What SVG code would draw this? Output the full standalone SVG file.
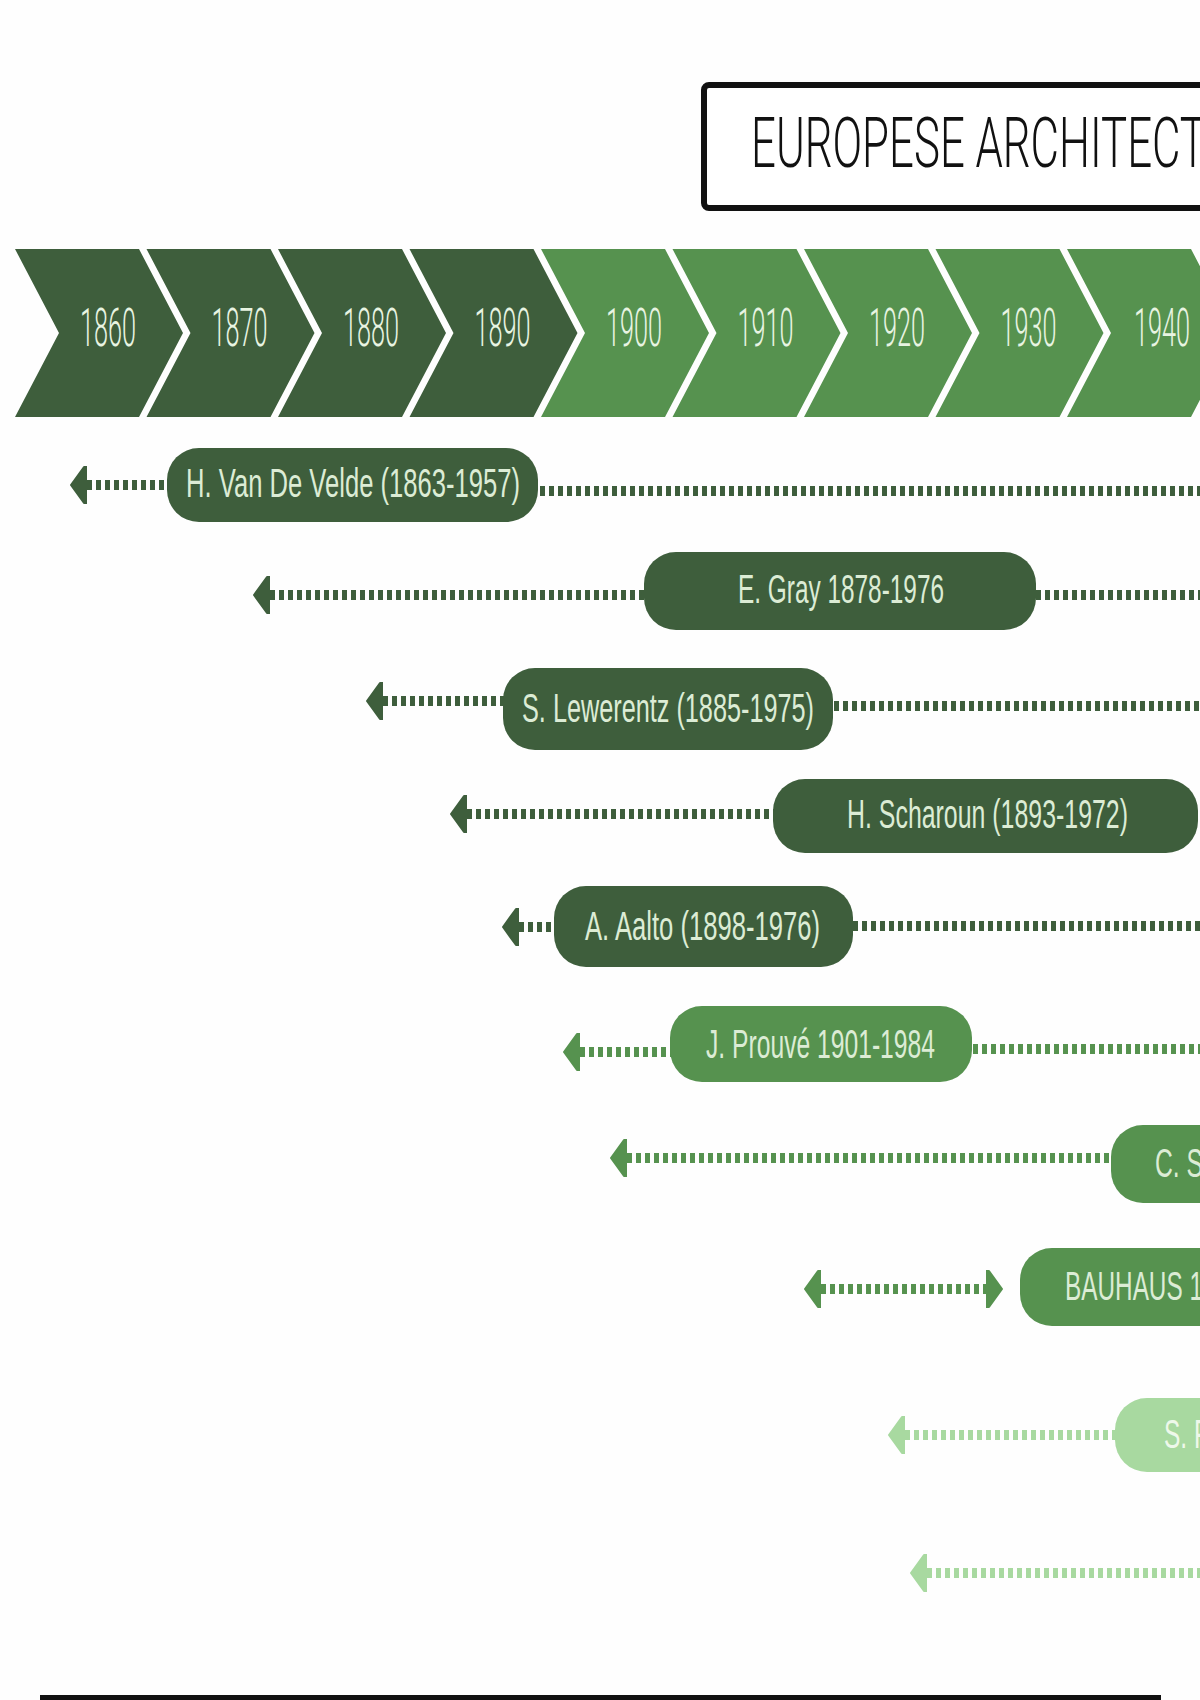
<svg xmlns="http://www.w3.org/2000/svg" width="1200" height="1700" viewBox="0 0 1200 1700">
<style>
.yr{font-family:Roboto,"Liberation Sans",sans-serif;font-weight:300;font-size:54px;fill:#e8f4e2;text-anchor:middle}
.lbl{font-family:"Liberation Sans",Arial,sans-serif;font-size:40px;fill:#dcecd5}
.dk{fill:#3e5e3c}.md{fill:#56924f}.lt{fill:#a8d9a0}
.ln{fill:none;stroke-width:10;stroke-dasharray:5 4}
.lndk{stroke:#3e5e3c}.lnmd{stroke:#56924f}.lnlt{stroke:#a8d9a0}
</style>
<defs>
<marker id="ahdk" markerUnits="userSpaceOnUse" markerWidth="22" markerHeight="44" viewBox="0 -22 22 44" refX="0" refY="0" orient="auto-start-reverse"><path d="M0,-18 L3,-18 L16,0 L3,18 L0,18 Z" fill="#3e5e3c" stroke="#3e5e3c" stroke-width="2" stroke-linejoin="round"/></marker>
<marker id="ahmd" markerUnits="userSpaceOnUse" markerWidth="22" markerHeight="44" viewBox="0 -22 22 44" refX="0" refY="0" orient="auto-start-reverse"><path d="M0,-18 L3,-18 L16,0 L3,18 L0,18 Z" fill="#56924f" stroke="#56924f" stroke-width="2" stroke-linejoin="round"/></marker>
<marker id="ahlt" markerUnits="userSpaceOnUse" markerWidth="22" markerHeight="44" viewBox="0 -22 22 44" refX="0" refY="0" orient="auto-start-reverse"><path d="M0,-18 L3,-18 L16,0 L3,18 L0,18 Z" fill="#a8d9a0" stroke="#a8d9a0" stroke-width="2" stroke-linejoin="round"/></marker>
</defs>
<rect width="1200" height="1700" fill="#fefefe"/>

<g id="title">
<rect x="704" y="85" width="540" height="123" rx="5" fill="#ffffff" stroke="#111111" stroke-width="6"/>
<text x="751" y="167" font-family="Roboto,'Liberation Sans',Arial,sans-serif" font-weight="300" font-size="70" fill="#111111" textLength="455" lengthAdjust="spacingAndGlyphs">EUROPESE ARCHITECT</text>
</g>

<g id="timeline">
<g id="y1860"><path class="dk" d="M15,249 L139,249 L183,333 L139,417 L15,417 L59,333 Z"/><text class="yr" x="108" y="346" textLength="56" lengthAdjust="spacingAndGlyphs">1860</text></g>
<g id="y1870"><path class="dk" d="M146.5,249 L270.5,249 L314.5,333 L270.5,417 L146.5,417 L190.5,333 Z"/><text class="yr" x="239.5" y="346" textLength="56" lengthAdjust="spacingAndGlyphs">1870</text></g>
<g id="y1880"><path class="dk" d="M278,249 L402,249 L446,333 L402,417 L278,417 L322,333 Z"/><text class="yr" x="371" y="346" textLength="56" lengthAdjust="spacingAndGlyphs">1880</text></g>
<g id="y1890"><path class="dk" d="M409.5,249 L533.5,249 L577.5,333 L533.5,417 L409.5,417 L453.5,333 Z"/><text class="yr" x="502.5" y="346" textLength="56" lengthAdjust="spacingAndGlyphs">1890</text></g>
<g id="y1900"><path class="md" d="M541,249 L665,249 L709,333 L665,417 L541,417 L585,333 Z"/><text class="yr" x="634" y="346" textLength="56" lengthAdjust="spacingAndGlyphs">1900</text></g>
<g id="y1910"><path class="md" d="M672.5,249 L796.5,249 L840.5,333 L796.5,417 L672.5,417 L716.5,333 Z"/><text class="yr" x="765.5" y="346" textLength="56" lengthAdjust="spacingAndGlyphs">1910</text></g>
<g id="y1920"><path class="md" d="M804,249 L928,249 L972,333 L928,417 L804,417 L848,333 Z"/><text class="yr" x="897" y="346" textLength="56" lengthAdjust="spacingAndGlyphs">1920</text></g>
<g id="y1930"><path class="md" d="M935.5,249 L1059.5,249 L1103.5,333 L1059.5,417 L935.5,417 L979.5,333 Z"/><text class="yr" x="1028.5" y="346" textLength="56" lengthAdjust="spacingAndGlyphs">1930</text></g>
<g id="y1940"><path class="md" d="M1067,249 L1191,249 L1235,333 L1191,417 L1067,417 L1111,333 Z"/><text class="yr" x="1162" y="346" textLength="56" lengthAdjust="spacingAndGlyphs">1940</text></g>
</g>

<g id="connectors">
<path class="ln lndk" d="M87,485 H167" marker-start="url(#ahdk)"/>
<path class="ln lndk" d="M540,491 H1205"/>
<path class="ln lndk" d="M270,595 H645"/>
<path class="ln lndk" d="M1036,595 H1205"/>
<path class="ln lndk" d="M383,701 H504"/>
<path class="ln lndk" d="M834,706 H1205"/>
<path class="ln lndk" d="M467,814 H774"/>
<path class="ln lndk" d="M519,927 H555"/>
<path class="ln lndk" d="M853,926 H1205"/>
<path class="ln lnmd" d="M580,1052 H671"/>
<path class="ln lnmd" d="M973,1049 H1205"/>
<path class="ln lnmd" d="M627,1158 H1112"/>
<path class="ln lnmd" d="M821,1289 H986" marker-end="url(#ahmd)"/>
<path class="ln lnlt" d="M905,1435 H1116"/>
<path class="ln lnlt" d="M927,1573 H1205"/>
<path d="M270,595 H271" stroke="none" fill="none" marker-start="url(#ahdk)"/>
<path d="M383,701 H384" stroke="none" fill="none" marker-start="url(#ahdk)"/>
<path d="M467,814 H468" stroke="none" fill="none" marker-start="url(#ahdk)"/>
<path d="M519,927 H520" stroke="none" fill="none" marker-start="url(#ahdk)"/>
<path d="M580,1052 H581" stroke="none" fill="none" marker-start="url(#ahmd)"/>
<path d="M627,1158 H628" stroke="none" fill="none" marker-start="url(#ahmd)"/>
<path d="M821,1289 H822" stroke="none" fill="none" marker-start="url(#ahmd)"/>
<path d="M905,1435 H906" stroke="none" fill="none" marker-start="url(#ahlt)"/>
<path d="M927,1573 H928" stroke="none" fill="none" marker-start="url(#ahlt)"/>
</g>

<g id="van-de-velde"><rect class="dk" x="167" y="448" width="371" height="74" rx="32"/><text class="lbl" x="186" y="497" textLength="334" lengthAdjust="spacingAndGlyphs">H. Van De Velde (1863-1957)</text></g>
<g id="gray"><rect class="dk" x="644" y="552" width="392" height="78" rx="32"/><text class="lbl" x="738" y="603" textLength="206" lengthAdjust="spacingAndGlyphs">E. Gray 1878-1976</text></g>
<g id="lewerentz"><rect class="dk" x="503" y="668" width="330" height="82" rx="32"/><text class="lbl" x="522" y="722" textLength="292" lengthAdjust="spacingAndGlyphs">S. Lewerentz (1885-1975)</text></g>
<g id="scharoun"><rect class="dk" x="773" y="779" width="425" height="74" rx="32"/><text class="lbl" x="847" y="828" textLength="281" lengthAdjust="spacingAndGlyphs">H. Scharoun (1893-1972)</text></g>
<g id="aalto"><rect class="dk" x="554" y="886" width="299" height="81" rx="32"/><text class="lbl" x="585" y="940" textLength="235" lengthAdjust="spacingAndGlyphs">A. Aalto (1898-1976)</text></g>
<g id="prouve"><rect class="md" x="670" y="1006" width="302" height="76" rx="32"/><text class="lbl" x="706" y="1058" textLength="229" lengthAdjust="spacingAndGlyphs">J. Prouvé 1901-1984</text></g>
<g id="c-s"><rect class="md" x="1111" y="1125" width="130" height="78" rx="32"/><text class="lbl" x="1155" y="1177" textLength="48" lengthAdjust="spacingAndGlyphs">C. S</text></g>
<g id="bauhaus"><rect class="md" x="1020" y="1248" width="220" height="78" rx="32"/><text class="lbl" x="1065" y="1300" textLength="138" lengthAdjust="spacingAndGlyphs">BAUHAUS 1</text></g>
<g id="s-f"><rect class="lt" x="1115" y="1398" width="130" height="74" rx="32"/><text class="lbl" x="1164" y="1448" textLength="45" lengthAdjust="spacingAndGlyphs" style="fill:#eef8ea">S. F</text></g>

<rect id="baseline" x="40" y="1695" width="1121" height="5" fill="#111111"/>
</svg>
